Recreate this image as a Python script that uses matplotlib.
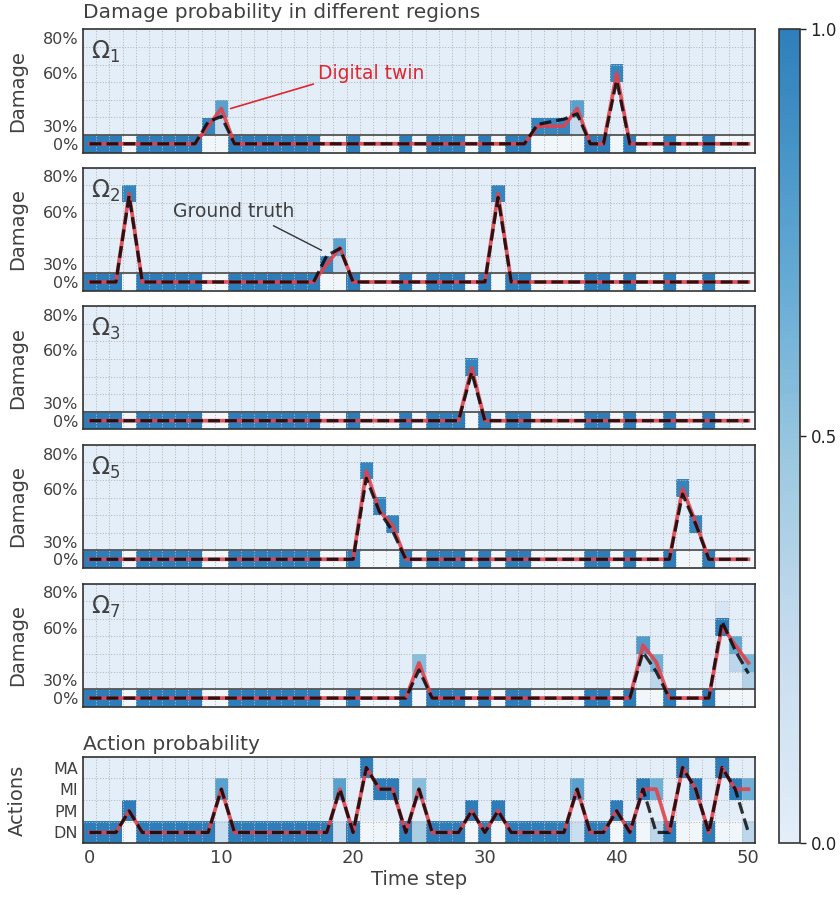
import numpy as np
import matplotlib
matplotlib.use('Agg')
import matplotlib.pyplot as plt
from matplotlib.colors import LinearSegmentedColormap

# ---- data ----
steps = np.arange(51)
damage_tick_rows = [0, 1, 4, 6]
damage_tick_labels = ['0%', '30%', '60%', '80%']
n_damage_rows = 7
action_labels = ['DN', 'PM', 'MI', 'MA']
region_names = [r'$\Omega_1$', r'$\Omega_2$', r'$\Omega_3$', r'$\Omega_5$', r'$\Omega_7$']

# steps where the "no damage" row is filled, elsewhere it is left blank
intact_steps = [0, 1, 2, 4, 5, 6, 7, 8, 11, 12, 13, 14, 15, 16, 17, 20, 24,
                26, 27, 28, 30, 32, 33, 38, 39, 41, 44, 47]

# damage probability cells (step, row, prob)
cells_o1 = [(9, 1, 0.95), (10, 2, 0.75), (10, 1, 0.25), (34, 1, 0.95), (35, 1, 0.95),
            (36, 1, 0.95), (37, 2, 0.75), (37, 1, 0.25), (40, 4, 0.95)]
cells_o2 = [(3, 5, 0.95), (18, 1, 0.95), (19, 2, 0.75), (19, 1, 0.25), (31, 5, 0.95)]
cells_o3 = [(29, 3, 0.95)]
cells_o5 = [(21, 5, 0.95), (22, 3, 0.95), (23, 2, 0.95), (45, 4, 0.95), (46, 2, 0.95)]
cells_o7 = [(25, 2, 0.55), (25, 1, 0.3), (42, 3, 0.8), (42, 2, 0.2), (43, 2, 0.65),
            (43, 1, 0.3), (48, 4, 1.0), (48, 5, 0.1), (49, 3, 0.7), (49, 2, 0.3),
            (50, 2, 0.6), (50, 1, 0.35)]

# line values (step, row position), zero elsewhere
twin_o1 = [(9, 1.0), (10, 2.0), (34, 1.0), (35, 1.0), (36, 1.0), (37, 2.0), (40, 4.0)]
truth_o1 = [(9, 1.25), (10, 1.55), (34, 1.1), (35, 1.25), (36, 1.4), (37, 1.7), (40, 3.6)]
twin_o2 = [(3, 5.0), (18, 1.0), (19, 1.95), (31, 5.0)]
truth_o2 = [(3, 4.9), (18, 1.5), (19, 1.9), (31, 4.8)]
twin_o3 = [(29, 3.0)]
truth_o3 = [(29, 2.75)]
twin_o5 = [(21, 5.0), (22, 2.75), (23, 1.9), (45, 4.0), (46, 2.1)]
truth_o5 = [(21, 4.6), (22, 2.7), (23, 1.6), (45, 3.7), (46, 2.0)]
twin_o7 = [(25, 2.0), (42, 3.0), (43, 2.05), (48, 4.1), (49, 3.0), (50, 2.0)]
truth_o7 = [(25, 1.6), (42, 2.6), (43, 1.5), (48, 4.35), (49, 2.7), (50, 1.4)]

# actions: 0=DN 1=PM 2=MI 3=MA
action_twin = [0, 0, 0, 1, 0, 0, 0, 0, 0, 0, 2, 0, 0, 0, 0, 0, 0, 0, 0, 2, 0, 3, 2, 2, 0, 2,
               0, 0, 0, 1, 0, 1, 0, 0, 0, 0, 0, 2, 0, 0, 1, 0, 2, 2, 0, 3, 2, 0, 3, 2, 2]
action_truth = [0, 0, 0, 1, 0, 0, 0, 0, 0, 0, 2, 0, 0, 0, 0, 0, 0, 0, 0, 2, 0, 3, 2, 2, 0, 2,
                0, 0, 0, 1, 0, 1, 0, 0, 0, 0, 0, 2, 0, 0, 1, 0, 2, 0, 0, 3, 2, 0, 3, 2, 0]
action_cells = [(10, 2, 0.75), (10, 0, 0.2), (19, 2, 0.75), (19, 0, 0.2), (25, 2, 0.55),
                (25, 0, 0.4), (37, 2, 0.75), (37, 0, 0.2), (43, 2, 0.65), (43, 0, 0.3),
                (50, 2, 0.65), (50, 0, 0.3)]

panels = [(cells_o1, twin_o1, truth_o1), (cells_o2, twin_o2, truth_o2),
          (cells_o3, twin_o3, truth_o3), (cells_o5, twin_o5, truth_o5),
          (cells_o7, twin_o7, truth_o7)]

# ---- style ----
txt = '#404040'
blues = plt.get_cmap('Blues')
cmap = LinearSegmentedColormap.from_list('blues_cut', blues(np.linspace(0.1, 0.7, 256)))
cmap.set_bad('#f1f6fb')

fig = plt.figure(figsize=(8.4, 8.98), dpi=100)
W, H = 840.0, 898.0


def add_ax(left, top, width, height):
    return fig.add_axes([left / W, 1 - (top + height) / H, width / W, height / H])


def to_line(pairs):
    y = np.zeros(len(steps))
    for s, v in pairs:
        y[s] = v
    return y


def style_ax(ax, nrows):
    ax.set_xlim(-0.5, 50.5)
    ax.set_ylim(-0.5, nrows - 0.5)
    ax.set_xticks([0, 10, 20, 30, 40, 50])
    ax.set_xticks(np.arange(-0.5, 51, 1), minor=True)
    ax.set_yticks(np.arange(-0.5, nrows, 1), minor=True)
    ax.grid(which='minor', ls=':', color='#b8b8b8', lw=0.75)
    ax.tick_params(which='both', length=0, colors=txt, labelsize=11.5)
    ax.tick_params(axis='x', labelsize=13, pad=4)
    for sp in ax.spines.values():
        sp.set_color('#333333')
        sp.set_linewidth(1.2)


tops = [29.3, 167.5, 306.2, 444.8, 583.6]
im = None
for k, (cells, twin, truth) in enumerate(panels):
    ax = add_ax(83, tops[k], 672, 123.3)
    mat = np.zeros((n_damage_rows, len(steps)))
    mat[0, :] = np.nan
    mat[0, intact_steps] = 1.0
    for s, r, p in cells:
        mat[r, s] = p
    im = ax.imshow(np.ma.masked_invalid(mat), cmap=cmap, vmin=0, vmax=1, origin='lower',
                   aspect='auto', interpolation='nearest',
                   extent=(-0.5, 50.5, -0.5, n_damage_rows - 0.5))
    ax.plot(steps, to_line(twin), color='#e0434d', lw=2.7, alpha=0.9, zorder=3)
    ax.plot(steps, to_line(truth), color='k', ls='--', lw=2.3, alpha=0.8, zorder=4)
    style_ax(ax, n_damage_rows)
    ax.axhline(0.5, color='#555555', lw=1.3, zorder=2)
    ax.set_yticks(damage_tick_rows)
    ax.set_yticklabels(damage_tick_labels)
    ax.set_xticklabels([])
    ax.set_ylabel('Damage', fontsize=14, color=txt)
    ax.yaxis.set_label_coords(-0.083, 0.5)
    ax.text(0.012, 0.92, region_names[k], transform=ax.transAxes, fontsize=17,
            color=txt, va='top', ha='left')
    if k == 0:
        ax.set_title('Damage probability in different regions', loc='left',
                     fontsize=14.5, color=txt, pad=8)
        ax.annotate('Digital twin', xy=(10.7, 2.0), xytext=(17.3, 4.0),
                    color='#e0262e', fontsize=13.5, va='center',
                    arrowprops=dict(arrowstyle='-', color='#e0262e', lw=1.2,
                                    relpos=(0, 0), shrinkA=1, shrinkB=0))
    if k == 1:
        ax.annotate('Ground truth', xy=(17.6, 1.8), xytext=(6.35, 4.0),
                    color=txt, fontsize=13.5, va='center',
                    arrowprops=dict(arrowstyle='-', color='#333333', lw=1.0,
                                    relpos=(0.75, 0), shrinkA=3, shrinkB=0))

# actions
ax = add_ax(83, 756.7, 672, 86.6)
amat = np.zeros((len(action_labels), len(steps)))
amat[0, :] = np.nan
for s, a in enumerate(action_twin):
    amat[a, s] = 1.0
for s, r, p in action_cells:
    amat[r, s] = p
ax.imshow(np.ma.masked_invalid(amat), cmap=cmap, vmin=0, vmax=1, origin='lower',
          aspect='auto', interpolation='nearest',
          extent=(-0.5, 50.5, -0.5, len(action_labels) - 0.5))
ax.plot(steps, action_twin, color='#e0434d', lw=2.7, alpha=0.9, zorder=3)
ax.plot(steps, action_truth, color='k', ls='--', lw=2.3, alpha=0.8, zorder=4)
style_ax(ax, len(action_labels))
ax.set_yticks(range(len(action_labels)))
ax.set_yticklabels(action_labels)
ax.set_ylabel('Actions', fontsize=14, color=txt)
ax.yaxis.set_label_coords(-0.083, 0.5)
ax.set_xlabel('Time step', fontsize=14, color=txt, labelpad=2)
ax.set_title('Action probability', loc='left', fontsize=14.5, color=txt, pad=5)

# colorbar
cax = add_ax(779, 29.3, 21, 813.4)
cb = fig.colorbar(im, cax=cax, ticks=[0, 0.5, 1.0], format='%.1f')
cb.outline.set_edgecolor('#333333')
cb.outline.set_linewidth(1.2)
cax.tick_params(labelsize=12, colors='#222222', length=4, width=1)

fig.savefig('out.png', dpi=100)
